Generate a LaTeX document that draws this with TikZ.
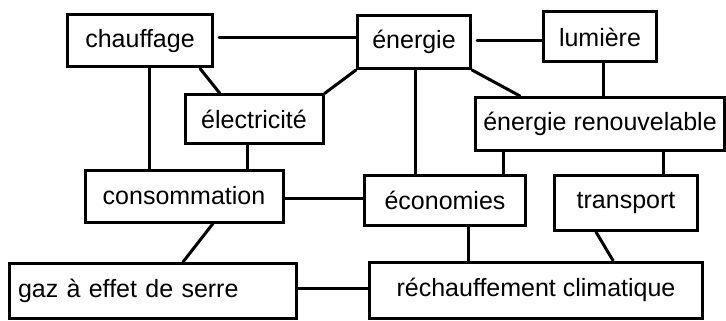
\documentclass[tikz,border=0pt]{standalone}
\usepackage{fontspec}
\setmainfont{Liberation Sans}
\begin{document}
\begin{tikzpicture}[x=1pt,y=-1pt,
  concept/.style={draw=black, line width=3pt, fill=white, inner sep=0pt,
    font=\fontsize{25}{28}\selectfont, text=black},
  link/.style={line width=3pt, draw=black, line cap=round}]
\useasboundingbox (0,0) rectangle (726,321);
\node[concept, minimum width=145pt, minimum height=52pt] (chauffage) at (140,41) {chauffage};
\node[concept, minimum width=113pt, minimum height=53pt] (energie) at (414,42) {énergie};
\node[concept, minimum width=113pt, minimum height=50pt] (lumiere) at (600,37) {lumière};
\node[concept, minimum width=138pt, minimum height=48pt] (electricite) at (254,119) {électricité};
\node[concept, minimum width=249pt, minimum height=53pt] (renouvelable) at (600,124) {énergie renouvelable};
\node[concept, minimum width=198pt, minimum height=52pt] (consommation) at (184,196) {consommation};
\node[concept, minimum width=161pt, minimum height=50pt] (economies) at (445,200) {économies};
\node[concept, minimum width=143pt, minimum height=55pt] (transport) at (626,203) {transport};
\node[concept, minimum width=287pt, minimum height=55pt, text width=270pt, align=left] (gaz) at (153,291) {gaz à effet de serre};
\node[concept, minimum width=333pt, minimum height=56pt] (rechauffement) at (536,290) {réchauffement climatique};

\draw[link, shorten <=5pt] ([yshift=3pt]chauffage.east) -- ([yshift=4pt]energie.west);
\draw[link, shorten <=5pt] ([yshift=1pt]energie.east) -- ([yshift=-4pt]lumiere.west);
\draw[link] ([xshift=9pt]chauffage.south) -- ([xshift=-35pt]consommation.north);
\draw[link] ([xshift=60pt]chauffage.south) -- ([xshift=-34pt]electricite.north);
\draw[link] (electricite.north east) -- (energie.south west);
\draw[link] ([xshift=-7pt]electricite.south) -- ([xshift=63pt]consommation.north);
\draw[link] ([xshift=1pt]energie.south) -- ([xshift=-30pt]economies.north);
\draw[link] (energie.south east) -- ([xshift=-80pt]renouvelable.north);
\draw[link] ([xshift=3pt]lumiere.south) -- ([xshift=3pt]renouvelable.north);
\draw[link] ([xshift=-97pt]renouvelable.south) -- ([xshift=58pt]economies.north);
\draw[link] ([xshift=63pt]renouvelable.south) -- ([xshift=37pt]transport.north);
\draw[link] ([yshift=-2pt]consommation.east) -- ([yshift=2pt]economies.west);
\draw[link] ([xshift=29pt]consommation.south) -- ([xshift=30pt]gaz.north);
\draw[link] ([yshift=3pt]gaz.east) -- ([yshift=2pt]rechauffement.west);
\draw[link] ([xshift=23pt]economies.south) -- ([xshift=-68pt]rechauffement.north);
\draw[link] ([xshift=-30pt]transport.south) -- ([xshift=77pt]rechauffement.north);
\end{tikzpicture}
\end{document}
